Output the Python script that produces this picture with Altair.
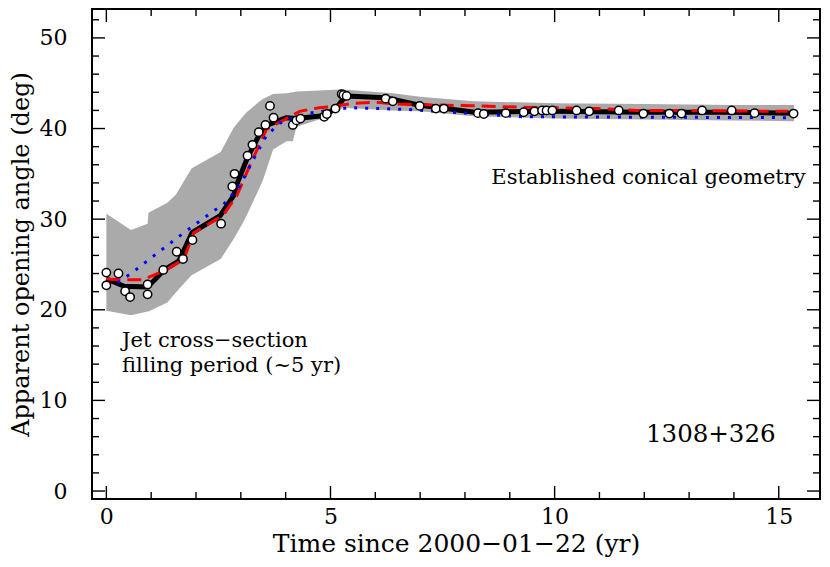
import altair as alt
import pandas as pd

# ---------------- data ----------------
obs_t = [0.0, 0.0, 0.27, 0.42, 0.53, 0.92, 0.92, 1.27, 1.57, 1.71, 1.92, 2.56, 2.81, 2.86,
         3.15, 3.26, 3.40, 3.55, 3.65, 3.73, 4.16, 4.24, 4.33, 4.86, 4.92, 5.11, 5.25, 5.29,
         5.36, 6.23, 6.39, 6.99, 7.35, 7.53, 8.29, 8.42, 8.91, 9.31, 9.55, 9.72, 9.82, 9.95,
         10.49, 10.77, 11.43, 11.98, 12.56, 12.83, 13.29, 13.95, 14.46, 15.33]
obs_a = [24.1, 22.7, 24.0, 22.05, 21.4, 22.8, 21.7, 24.4, 26.4, 25.6, 27.7, 29.5, 33.6, 35.0,
         37.0, 38.2, 39.6, 40.4, 42.5, 41.2, 40.4, 40.9, 41.1, 41.3, 41.6, 42.2, 43.8, 43.7,
         43.6, 43.3, 43.0, 42.5, 42.2, 42.2, 41.7, 41.6, 41.7, 41.8, 41.9, 42.0, 42.0, 42.0,
         42.0, 41.9, 42.0, 41.65, 41.65, 41.65, 42.0, 42.0, 41.7, 41.65]

band_t = [0.0, 0.55, 0.92, 0.94, 1.36, 1.55, 1.90, 2.55, 2.84, 3.06, 3.13, 3.42, 3.50, 3.72,
          4.02, 4.16, 4.24, 4.75, 5.20, 5.27, 6.40, 7.00, 8.20, 10.0, 12.0, 14.0, 15.34]
band_hi = [30.6, 28.8, 29.5, 30.7, 31.8, 32.7, 35.6, 37.4, 40.1, 41.4, 41.8, 43.0, 43.3, 43.8,
           43.9, 44.0, 44.1, 44.2, 44.3, 44.3, 43.9, 43.5, 43.0, 42.8, 42.7, 42.6, 42.6]
band_lo = [19.9, 19.4, 19.8, 19.8, 20.8, 21.9, 23.8, 25.6, 27.8, 29.7, 30.4, 33.5, 34.4, 37.7,
           38.6, 38.6, 40.2, 41.0, 42.0, 42.3, 42.0, 41.9, 41.35, 41.1, 41.0, 40.9, 40.8]

med_t = [0.0, 0.40, 0.92, 1.29, 1.62, 1.91, 2.54, 2.84, 2.90, 3.15, 3.40, 3.60, 4.02, 4.24,
         4.83, 5.12, 5.34, 6.23, 6.96, 8.22, 10.0, 12.0, 14.0, 15.33]
med_a = [23.4, 22.6, 22.5, 24.4, 25.4, 28.5, 30.4, 32.6, 33.7, 36.8, 39.2, 40.4, 41.2, 41.1,
         41.4, 42.2, 43.6, 43.4, 42.6, 41.8, 41.9, 41.8, 41.8, 41.7]

model_t = [0.0, 0.40, 0.81, 1.29, 1.73, 1.95, 2.60, 2.91, 3.20, 3.57, 3.98, 4.31, 4.75, 4.97,
           5.56, 6.00, 6.52, 7.33, 8.22, 8.88, 10.95, 11.83, 15.20]
model_a = [23.4, 23.3, 23.3, 24.3, 25.6, 28.5, 30.4, 32.6, 35.9, 39.9, 41.0, 41.9, 42.3, 42.4,
           42.8, 42.9, 42.7, 42.6, 42.5, 42.4, 42.2, 42.0, 41.9]

alt_t = [0.25, 0.55, 1.07, 1.73, 2.39, 2.61, 2.98, 3.28, 3.57, 3.87, 4.20, 4.53, 5.42, 6.74,
         8.22, 9.30, 12.0, 15.30]
alt_a = [23.0, 24.0, 26.0, 28.5, 30.9, 31.6, 33.7, 36.6, 39.2, 40.6, 41.2, 41.7, 42.3, 42.1,
         41.65, 41.3, 41.25, 41.2]

x_major = [0, 5, 10, 15]
x_minor = [1, 2, 3, 4, 6, 7, 8, 9, 11, 12, 13, 14]
y_major = [0, 10, 20, 30, 40, 50]
y_minor = [2, 4, 6, 8, 12, 14, 16, 18, 22, 24, 26, 28, 32, 34, 36, 38, 42, 44, 46, 48, 52]

notes_text = ["Jet cross\u2212section", "filling period (~5 yr)"]
notes_t = [0.35, 0.35]
notes_a = [16.6, 13.75]

# ---------------- chart ----------------
W, H = 728, 490
FONT = "DejaVu Serif"
XD = [-0.32, 15.92]
YD = [-0.88, 53.19]
xs = alt.Scale(domain=XD, nice=False, zero=False)
ys = alt.Scale(domain=YD, nice=False, zero=False)

X_AX = alt.Axis(values=x_major, ticks=False, domain=False, grid=False,
                labelFont=FONT, labelFontSize=22, labelColor="black",
                labelPadding=7, title="Time since 2000\u221201\u221222 (yr)",
                titleFont=FONT, titleFontSize=25, titleFontWeight="normal",
                titleColor="black", titlePadding=4)
Y_AX = alt.Axis(values=y_major, ticks=False, domain=False, grid=False,
                labelFont=FONT, labelFontSize=22, labelColor="black",
                labelPadding=25, title="Apparent opening angle (deg)",
                titleFont=FONT, titleFontSize=24, titleFontWeight="normal",
                titleColor="black", titlePadding=6)


def X(f):
    return alt.X(f, scale=xs, axis=X_AX)


def Y(f):
    return alt.Y(f, scale=ys, axis=Y_AX)


band_df = pd.DataFrame({"t": band_t, "lo": band_lo, "hi": band_hi})
band = alt.Chart(band_df).mark_area(color="#aaaaaa", opacity=1, interpolate="linear").encode(
    x=X("t:Q"), y=Y("lo:Q"), y2="hi:Q")

med = alt.Chart(pd.DataFrame({"t": med_t, "a": med_a})).mark_line(
    color="black", strokeWidth=5, strokeJoin="round").encode(x=X("t:Q"), y=Y("a:Q"))

model = alt.Chart(pd.DataFrame({"t": model_t, "a": model_a})).mark_line(
    color="#ff0000", strokeWidth=3, strokeDash=[14, 7]).encode(x=X("t:Q"), y=Y("a:Q"))

altm = alt.Chart(pd.DataFrame({"t": alt_t, "a": alt_a})).mark_line(
    color="#0000ff", strokeWidth=3, strokeDash=[3, 8]).encode(x=X("t:Q"), y=Y("a:Q"))

pts = alt.Chart(pd.DataFrame({"t": obs_t, "a": obs_a})).mark_point(
    shape="circle", filled=True, fill="white", stroke="black", strokeWidth=1.5,
    size=70, opacity=1).encode(x=X("t:Q"), y=Y("a:Q"))

notes = alt.Chart(pd.DataFrame({"t": notes_t, "a": notes_a, "s": notes_text})).mark_text(
    font=FONT, fontSize=21, align="left", baseline="middle", color="black").encode(
    x=X("t:Q"), y=Y("a:Q"), text="s:N")

est = alt.Chart(pd.DataFrame({"t": [15.6], "a": [34.5], "s": ["Established conical geometry"]})).mark_text(
    font=FONT, fontSize=21, align="right", baseline="middle", color="black").encode(
    x=X("t:Q"), y=Y("a:Q"), text="s:N")

src = alt.Chart(pd.DataFrame({"t": [14.93], "a": [6.15], "s": ["1308+326"]})).mark_text(
    font=FONT, fontSize=24.5, align="right", baseline="middle", color="black").encode(
    x=X("t:Q"), y=Y("a:Q"), text="s:N")


def xticks(vals, length, top):
    df = pd.DataFrame({"v": vals})
    y0 = 0 if top else H
    y1 = length if top else H - length
    return alt.Chart(df).mark_rule(color="black", strokeWidth=1.4).encode(
        x=X("v:Q"), y=alt.value(y0), y2=alt.value(y1))


def yticks(vals, length, right):
    df = pd.DataFrame({"v": vals})
    x0 = W if right else 0
    x1 = W - length if right else length
    return alt.Chart(df).mark_rule(color="black", strokeWidth=1.4).encode(
        y=Y("v:Q"), x=alt.value(x0), x2=alt.value(x1))


ticks = [xticks(x_major, 13, False), xticks(x_major, 13, True),
         xticks(x_minor, 7, False), xticks(x_minor, 7, True),
         yticks(y_major, 13, False), yticks(y_major, 13, True),
         yticks(y_minor, 7, False), yticks(y_minor, 7, True)]

chart = alt.layer(band, med, model, altm, pts, notes, est, src, *ticks).properties(
    width=W, height=H,
    background="white",
    autosize=alt.AutoSizeParams(type="none"),
    padding={"left": 84, "top": 1, "right": 2, "bottom": 60},
).configure_view(stroke="black", strokeWidth=2)

chart.save("out.html", embed_options={"renderer": "svg", "actions": False})
